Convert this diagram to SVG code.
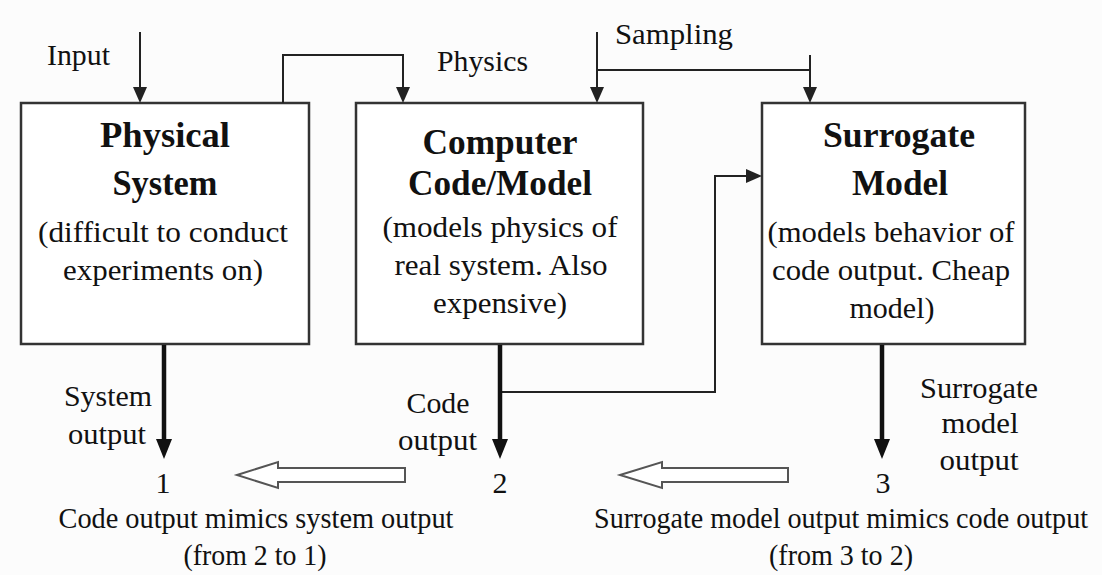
<svg xmlns="http://www.w3.org/2000/svg" width="1102" height="575" viewBox="0 0 1102 575">
<style>
  text { font-family: "Liberation Serif", "Times New Roman", serif; fill: #111; text-anchor: middle; }
  .b { font-weight: bold; font-size: 35.5px; }
  .r { font-size: 30px; }
  .c { font-size: 28.5px; }
  .box { fill: #fff; stroke: #333; stroke-width: 2.5; }
  .thin { fill: none; stroke: #222; stroke-width: 2; }
  .thick { fill: none; stroke: #111; stroke-width: 4.5; }
  .hollow { fill: #fff; stroke: #555; stroke-width: 2; stroke-linejoin: miter; }
</style>
<defs>
  <marker id="ah" viewBox="0 0 16 14" refX="8" refY="7" markerWidth="16" markerHeight="14" markerUnits="userSpaceOnUse" orient="auto">
    <path d="M0,0 L16,7 L0,14 z" fill="#222"/>
  </marker>
  <marker id="ahb" viewBox="0 0 20 16" refX="10" refY="8" markerWidth="20" markerHeight="16" markerUnits="userSpaceOnUse" orient="auto">
    <path d="M0,0 L20,8 L0,16 z" fill="#111"/>
  </marker>
</defs>
<rect x="0" y="0" width="1102" height="575" fill="#fcfcfc"/>

<g id="node-physical">
  <rect class="box" x="21" y="103" width="288" height="241"/>
  <text class="b" x="165" y="147" textLength="130" lengthAdjust="spacingAndGlyphs">Physical</text>
  <text class="b" x="165" y="195" textLength="105" lengthAdjust="spacingAndGlyphs">System</text>
  <text class="r" x="163" y="242" textLength="250" lengthAdjust="spacingAndGlyphs">(difficult to conduct</text>
  <text class="r" x="163" y="280" textLength="200" lengthAdjust="spacingAndGlyphs">experiments on)</text>
</g>

<g id="node-computer">
  <rect class="box" x="356" y="103" width="287" height="241"/>
  <text class="b" x="500" y="154" textLength="155" lengthAdjust="spacingAndGlyphs">Computer</text>
  <text class="b" x="500" y="195" textLength="184" lengthAdjust="spacingAndGlyphs">Code/Model</text>
  <text class="r" x="500" y="237" textLength="235" lengthAdjust="spacingAndGlyphs">(models physics of</text>
  <text class="r" x="501" y="275" textLength="213" lengthAdjust="spacingAndGlyphs">real system. Also</text>
  <text class="r" x="500" y="313" textLength="134" lengthAdjust="spacingAndGlyphs">expensive)</text>
</g>

<g id="node-surrogate">
  <rect class="box" x="762" y="103" width="263" height="241"/>
  <text class="b" x="899" y="147" textLength="152" lengthAdjust="spacingAndGlyphs">Surrogate</text>
  <text class="b" x="900" y="195" textLength="96" lengthAdjust="spacingAndGlyphs">Model</text>
  <text class="r" x="891" y="242" textLength="247" lengthAdjust="spacingAndGlyphs">(models behavior of</text>
  <text class="r" x="891" y="280" textLength="238" lengthAdjust="spacingAndGlyphs">code output. Cheap</text>
  <text class="r" x="892" y="318" textLength="85" lengthAdjust="spacingAndGlyphs">model)</text>
</g>

<g id="connectors">
  <path class="thin" d="M140,32 V95" marker-end="url(#ah)"/>
  <path class="thin" d="M283,103 V55 H403 V95" marker-end="url(#ah)"/>
  <path class="thin" d="M597,32 V95" marker-end="url(#ah)"/>
  <path class="thin" d="M597,70 H810"/>
  <path class="thin" d="M810,55 V95" marker-end="url(#ah)"/>
  <path class="thin" d="M500,392 H715 V176 H754" marker-end="url(#ah)"/>
  <path class="thick" d="M164,345 V449" marker-end="url(#ahb)"/>
  <path class="thick" d="M500,345 V449" marker-end="url(#ahb)"/>
  <path class="thick" d="M882,345 V449" marker-end="url(#ahb)"/>
  <polygon class="hollow" points="237,475 278,462 278,468 405,468 405,482 278,482 278,488"/>
  <polygon class="hollow" points="620,475 662,462 662,468 788,468 788,482 662,482 662,488"/>
</g>

<g id="labels">
  <text class="r" x="78.5" y="65" textLength="63" lengthAdjust="spacingAndGlyphs">Input</text>
  <text class="r" x="482.5" y="71" textLength="91" lengthAdjust="spacingAndGlyphs">Physics</text>
  <text class="r" x="674" y="44" textLength="118" lengthAdjust="spacingAndGlyphs">Sampling</text>
  <text class="r" x="108" y="406" textLength="88" lengthAdjust="spacingAndGlyphs">System</text>
  <text class="r" x="107" y="444" textLength="78" lengthAdjust="spacingAndGlyphs">output</text>
  <text class="r" x="438" y="413" textLength="63" lengthAdjust="spacingAndGlyphs">Code</text>
  <text class="r" x="437.5" y="450" textLength="79" lengthAdjust="spacingAndGlyphs">output</text>
  <text class="r" x="979" y="398" textLength="118" lengthAdjust="spacingAndGlyphs">Surrogate</text>
  <text class="r" x="980" y="433" textLength="77" lengthAdjust="spacingAndGlyphs">model</text>
  <text class="r" x="979" y="470" textLength="79" lengthAdjust="spacingAndGlyphs">output</text>
  <text class="r" x="163" y="493">1</text>
  <text class="r" x="500" y="493">2</text>
  <text class="r" x="883" y="493">3</text>
  <text class="c" x="256" y="528" textLength="395" lengthAdjust="spacingAndGlyphs">Code output mimics system output</text>
  <text class="c" x="255" y="565" textLength="143" lengthAdjust="spacingAndGlyphs">(from 2 to 1)</text>
  <text class="c" x="841" y="528" textLength="494" lengthAdjust="spacingAndGlyphs">Surrogate model output mimics code output</text>
  <text class="c" x="841" y="565" textLength="144" lengthAdjust="spacingAndGlyphs">(from 3 to 2)</text>
</g>
</svg>
